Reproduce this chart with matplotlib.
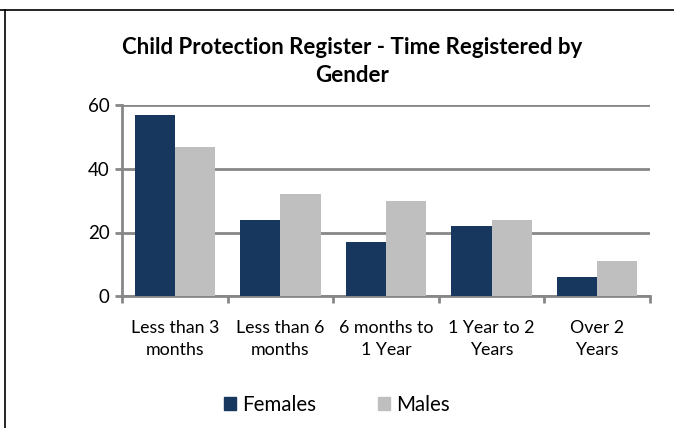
import matplotlib
matplotlib.use('Agg')
import matplotlib.pyplot as plt
from matplotlib.lines import Line2D
from matplotlib.patches import Patch
import numpy as np

# Dữ liệu biểu đồ
categories = ['Less than 3\nmonths', 'Less than 6\nmonths', '6 months to\n1 Year',
              '1 Year to 2\nYears', 'Over 2\nYears']
females = [57, 24, 17, 22, 6]
males = [47, 32, 30, 24, 11]
y_ticks = [0, 20, 40, 60]

plt.rcParams['font.family'] = ['Lato', 'DejaVu Sans']

navy = '#17375E'
grey = '#BFBFBF'
line_grey = '#878787'

fig = plt.figure(figsize=(6.74, 4.28), dpi=100)
ax = fig.add_axes([122 / 674, 1 - 296 / 428, (650 - 122) / 674, (296 - 105.5) / 428])

x = np.arange(len(categories))
w = 0.38
ax.bar(x - w / 2, females, width=w, color=navy, zorder=3, label='Females')
ax.bar(x + w / 2, males, width=w, color=grey, zorder=3, label='Males')

ax.set_xlim(-0.5, len(categories) - 0.5)
ax.set_ylim(0, 60)
ax.set_yticks(y_ticks)
ax.yaxis.grid(True, color=line_grey, linewidth=2, zorder=0)
ax.set_axisbelow(True)

# Trục x: nhãn ở giữa, vạch ở ranh giới
ax.set_xticks(x)
ax.set_xticklabels(categories, fontsize=12.8, linespacing=1.5)
ax.set_xticks(np.arange(-0.5, len(categories)), minor=True)
ax.tick_params(axis='x', which='major', length=0, pad=17)
ax.tick_params(axis='x', which='minor', length=5, width=2, color=line_grey, direction='out')
ax.tick_params(axis='y', length=5, width=2, color=line_grey, labelsize=13.5, pad=4)

for s in ['top', 'right']:
    ax.spines[s].set_visible(False)
for s in ['left', 'bottom']:
    ax.spines[s].set_color(line_grey)
    ax.spines[s].set_linewidth(2)

fig.text(352 / 674, 1 - 47 / 428, 'Child Protection Register - Time Registered by',
         ha='center', va='center', fontsize=16, fontweight='bold')
fig.text(352 / 674, 1 - 76 / 428, 'Gender',
         ha='center', va='center', fontsize=16, fontweight='bold')

handles = [Patch(color=navy), Patch(color=grey)]
fig.legend(handles, ['Females', 'Males'], loc='center', bbox_to_anchor=(337 / 674, 1 - 405 / 428),
           ncol=2, frameon=False, fontsize=14.8, handlelength=0.6, handleheight=0.6,
           handletextpad=0.3, columnspacing=3.0)

# Đường viền ngoài
fig.add_artist(Line2D([0, 1], [1 - 10 / 428, 1 - 10 / 428], color='black', linewidth=1.2))
fig.add_artist(Line2D([5 / 674, 5 / 674], [0, 1 - 10 / 428], color='black', linewidth=1.2))

plt.savefig('out.png', dpi=100)
plt.close()
